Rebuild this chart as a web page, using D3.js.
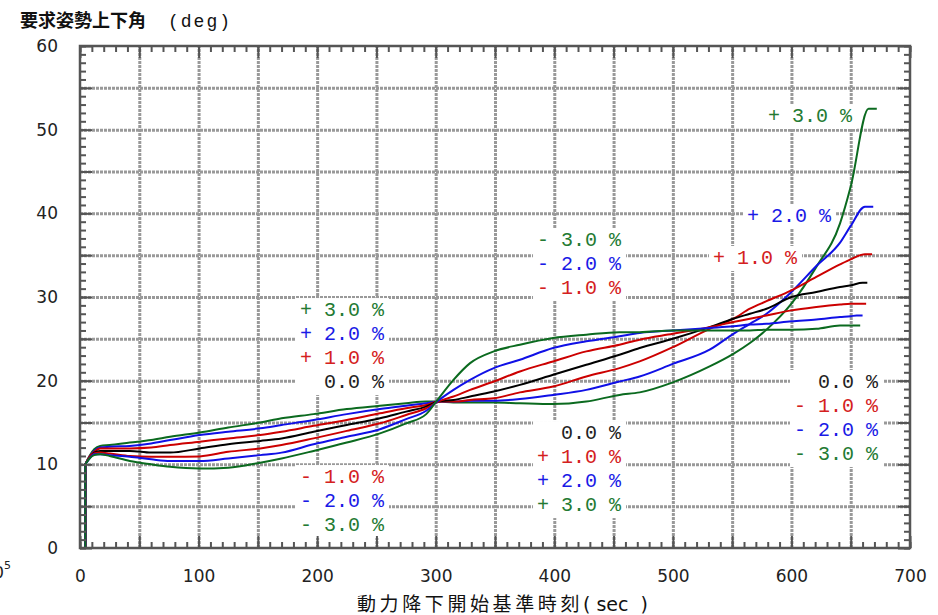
<!DOCTYPE html>
<html>
<head>
<meta charset="utf-8">
<script src="https://cdn.jsdelivr.net/npm/d3@7"></script>
<style>
  body { margin: 0; background: #fff; }
  svg { display: block; }
  .lbl { font-family: "Liberation Mono", "DejaVu Sans Mono", monospace; font-size: 20px; white-space: pre; }
  .tick text { font-family: "DejaVu Sans", sans-serif; font-size: 17px; fill: #222; }
</style>
</head>
<body>
<div class="chart"></div>
<script>
// data (time in sec, angle in deg)
var time = [4.5, 4.5, 8, 12, 17, 25, 42, 60, 76, 101, 125, 152, 170, 197, 225, 253, 275, 292, 302,
            315, 329, 349, 371, 399, 427, 455, 472, 500, 531, 551, 565, 579, 600, 621, 641, 650];
var plus3  = [0, 10.0, 11.0, 11.8, 12.2, 12.3, 12.6, 12.9, 13.3, 13.8, 14.4, 15.0, 15.5, 16.0, 16.6, 17.0, 17.3, 17.5, 17.5,
              17.4, 17.4, 17.4, 17.3, 17.2, 17.5, 18.3, 18.6, 19.8, 21.7, 23.2, 24.5, 26.1, 29.2, 33.6, 38.8, 43.2];
var plus2  = [0, 10.0, 10.9, 11.6, 12.0, 12.1, 12.2, 12.5, 12.9, 13.5, 13.9, 14.3, 14.7, 15.3, 16.0, 16.6, 17.0, 17.3, 17.5,
              17.5, 17.6, 17.6, 17.8, 18.3, 18.9, 19.9, 20.5, 22.0, 23.7, 25.6, 26.8, 28.0, 30.6, 33.7, 36.5, 38.5];
var plus1  = [0, 10.0, 10.9, 11.5, 11.9, 11.9, 11.9, 12.0, 12.3, 12.7, 13.1, 13.5, 13.9, 14.6, 15.3, 16.1, 16.7, 17.1, 17.5,
              17.5, 17.7, 17.9, 18.6, 19.3, 20.5, 21.5, 22.3, 24.0, 26.2, 27.4, 28.6, 29.5, 30.8, 32.4, 33.9, 34.5];
var zero   = [0, 10.0, 10.8, 11.4, 11.6, 11.6, 11.6, 11.4, 11.4, 11.9, 12.4, 12.8, 13.1, 13.9, 14.7, 15.5, 16.3, 16.9, 17.5,
              17.7, 18.1, 18.7, 19.5, 20.7, 21.9, 23.1, 23.9, 25.0, 26.4, 27.4, 28.0, 28.6, 30.0, 30.6, 31.2, 31.4];
var minus1 = [0, 10.0, 10.8, 11.3, 11.4, 11.3, 11.0, 10.9, 10.9, 10.95, 11.5, 11.9, 12.3, 13.1, 14.0, 14.9, 15.9, 16.7, 17.5,
              18.1, 18.9, 19.9, 21.1, 22.3, 23.5, 24.3, 24.9, 25.6, 26.4, 27.0, 27.4, 27.8, 28.4, 28.8, 29.1, 29.2];
var minus2 = [0, 10.0, 10.7, 11.2, 11.2, 11.1, 10.9, 10.6, 10.4, 10.4, 10.7, 11.1, 11.4, 12.4, 13.3, 14.2, 15.4, 16.4, 17.6,
              18.9, 20.1, 21.5, 22.5, 23.9, 24.7, 25.3, 25.7, 26.0, 26.3, 26.5, 26.7, 26.8, 27.1, 27.3, 27.6, 27.7];
var minus3 = [0, 10.0, 10.7, 11.1, 11.2, 11.0, 10.4, 10.0, 9.7, 9.5, 9.6, 10.2, 10.7, 11.6, 12.6, 13.7, 14.9, 16.0, 17.8,
              20.1, 22.1, 23.5, 24.3, 25.1, 25.5, 25.8, 25.8, 26.0, 26.0, 26.0, 26.0, 26.1, 26.1, 26.2, 26.6, 26.6];
// end of each run: last rise, then a short flat piece
var seriesNames = ["+3", "+2", "+1", "0", "-1", "-2", "-3"];
var topT = [665, 662, 662, 660, 658, 655, 652];
var endT = [672, 669, 668, 664, 663, 660, 658];
var endV = [52.5, 40.8, 35.1, 31.7, 29.2, 27.8, 26.6];
var lineColors = ["#0b6a1f", "#1010e6", "#cc0000", "#000000", "#cc0000", "#1010e6", "#0b6a1f"];

var xTicks = d3.range(0, 701, 100);
var yTicks = d3.range(0, 61, 10);

// label groups: right edge time, first row value, rows
var labelEnd  = [256.4, 256.4, 456.3, 456.3, 651, 633.4, 604.7, 673];
var labelTop  = [28.56, 8.6, 36.93, 13.86, 51.75, 39.8, 34.78, 19.96];
var labelRows = [
  ["+ 3.0 %", "+ 2.0 %", "+ 1.0 %", "  0.0 %"],
  ["- 1.0 %", "- 2.0 %", "- 3.0 %"],
  ["- 3.0 %", "- 2.0 %", "- 1.0 %"],
  ["  0.0 %", "+ 1.0 %", "+ 2.0 %", "+ 3.0 %"],
  ["+ 3.0 %"],
  ["+ 2.0 %"],
  ["+ 1.0 %"],
  ["  0.0 %", "- 1.0 %", "- 2.0 %", "- 3.0 %"]
];

var svgWidth = 938;
var svgHeight = 615;

var svg = d3.select(".chart").append("svg")
  .attr("width", svgWidth)
  .attr("height", svgHeight);

var x = d3.scaleLinear().domain([0, 700]).range([80, 910]);
var y = d3.scaleLinear().domain([0, 60]).range([548, 46]);

function labelColor(s) {
  if (s.indexOf("3.0") >= 0) return "#237a32";
  if (s.indexOf("2.0") >= 0) return "#1a1ae6";
  if (s.indexOf("1.0") >= 0) return "#d42020";
  return "#222";
}

// grid
var gridX = svg.append("g")
  .attr("transform", "translate(0,548)")
  .call(d3.axisBottom(x).tickValues(d3.range(50, 700, 50)).tickSize(-502).tickFormat(""));
var gridY = svg.append("g")
  .attr("transform", "translate(80,0)")
  .call(d3.axisLeft(y).tickValues(d3.range(5, 60, 5)).tickSize(-830).tickFormat(""));
svg.selectAll("g").selectAll(".domain").remove();
svg.selectAll(".tick line")
  .attr("stroke", "#999")
  .attr("stroke-width", 3)
  .attr("stroke-dasharray", "3,1");

// label backgrounds first (they cut the grid), text later
var labelLayer = svg.append("g");
var boxLayer = labelLayer.append("g");
var textLayer;

// curves
var allSeries = [plus3, plus2, plus1, zero, minus1, minus2, minus3];
var line = d3.line()
  .x(d => x(d[0]))
  .y(d => y(d[1]))
  .curve(d3.curveMonotoneX);

allSeries.forEach(function(vals, i) {
  var pts = time.map((t, k) => [t, vals[k]]);
  pts.push([topT[i], endV[i]]);
  pts.push([endT[i], endV[i]]);
  // first rise is vertical, draw it straight then the rest smooth
  svg.append("line")
    .attr("x1", x(pts[0][0])).attr("x2", x(pts[1][0]))
    .attr("y1", y(pts[0][1])).attr("y2", y(pts[1][1]))
    .attr("stroke", lineColors[i]).attr("stroke-width", 2);
  svg.append("path")
    .datum(pts.slice(1))
    .attr("fill", "none")
    .attr("stroke", lineColors[i])
    .attr("stroke-width", 2)
    .attr("d", line);
});

textLayer = svg.append("g");
labelRows.forEach(function(rows, g) {
  rows.forEach(function(s, r) {
    var t = textLayer.append("text")
      .attr("class", "lbl")
      .attr("x", x(labelEnd[g]))
      .attr("y", y(labelTop[g]) + r * 24)
      .attr("dy", "0.35em")
      .attr("text-anchor", "end")
      .attr("fill", labelColor(s))
      .text(s);
    var b = t.node().getBBox();
    boxLayer.append("rect")
      .attr("x", b.x - 4).attr("y", b.y - 1)
      .attr("width", b.width + 8).attr("height", b.height + 2)
      .attr("fill", "#fff");
  });
});

// frame ticks, inward on all four sides
var frame = svg.append("g");
function tickAxis(axis, tr) {
  var g = frame.append("g").attr("transform", tr).call(axis);
  g.selectAll(".domain").remove();
  g.selectAll("line").attr("stroke", "#555").attr("stroke-width", 2);
  return g;
}
tickAxis(d3.axisBottom(x).tickValues(d3.range(0, 701, 10)).tickSize(-6).tickFormat(""), "translate(0,548)");
tickAxis(d3.axisBottom(x).tickValues(d3.range(0, 701, 50)).tickSize(-12).tickFormat(""), "translate(0,548)");
tickAxis(d3.axisTop(x).tickValues(d3.range(0, 701, 10)).tickSize(-6).tickFormat(""), "translate(0,46)");
tickAxis(d3.axisTop(x).tickValues(d3.range(0, 701, 50)).tickSize(-12).tickFormat(""), "translate(0,46)");
tickAxis(d3.axisLeft(y).tickValues(d3.range(0, 61, 1)).tickSize(-6).tickFormat(""), "translate(80,0)");
tickAxis(d3.axisLeft(y).tickValues(d3.range(0, 61, 5)).tickSize(-12).tickFormat(""), "translate(80,0)");
tickAxis(d3.axisRight(y).tickValues(d3.range(0, 61, 1)).tickSize(-6).tickFormat(""), "translate(910,0)");
tickAxis(d3.axisRight(y).tickValues(d3.range(0, 61, 5)).tickSize(-12).tickFormat(""), "translate(910,0)");

frame.append("rect")
  .attr("x", 80).attr("y", 46)
  .attr("width", 830).attr("height", 502)
  .attr("fill", "none")
  .attr("stroke", "#555")
  .attr("stroke-width", 2.5);

// tick labels
var xLab = svg.append("g")
  .attr("transform", "translate(0,548)")
  .call(d3.axisBottom(x).tickValues(xTicks).tickSize(0).tickPadding(22));
var yLab = svg.append("g")
  .attr("transform", "translate(80,0)")
  .call(d3.axisLeft(y).tickValues(yTicks).tickSize(0).tickPadding(22));
xLab.select(".domain").remove();
yLab.select(".domain").remove();

// titles
var title = svg.append("text")
  .attr("x", 20).attr("y", 27)
  .attr("fill", "#111");
title.append("tspan")
  .style("font-family", "'Noto Sans CJK JP', sans-serif")
  .style("font-size", "18px")
  .style("font-weight", "bold")
  .text("要求姿勢上下角");
title.append("tspan")
  .attr("dx", 22)
  .style("font-family", "'Liberation Mono', monospace")
  .style("font-size", "18px")
  .style("letter-spacing", "2px")
  .text("(deg)");

var xTitle = svg.append("text")
  .attr("x", 357).attr("y", 611)
  .attr("fill", "#111")
  .style("font-size", "19px")
  .style("white-space", "pre");
xTitle.append("tspan")
  .style("font-family", "'Noto Sans CJK JP', sans-serif")
  .style("letter-spacing", "3.6px")
  .text("動力降下開始基準時刻");
xTitle.append("tspan")
  .style("font-family", "'DejaVu Sans', sans-serif")
  .text("( sec  )");

// leftover exponent at the bottom left edge
svg.append("text")
  .attr("x", 4).attr("y", 578)
  .attr("text-anchor", "end")
  .style("font-family", "'DejaVu Sans', sans-serif")
  .style("font-size", "16px")
  .attr("fill", "#222")
  .text("10");
svg.append("text")
  .attr("x", 4).attr("y", 569)
  .style("font-family", "'DejaVu Sans', sans-serif")
  .style("font-size", "11px")
  .attr("fill", "#222")
  .text("5");
</script>
</body>
</html>
